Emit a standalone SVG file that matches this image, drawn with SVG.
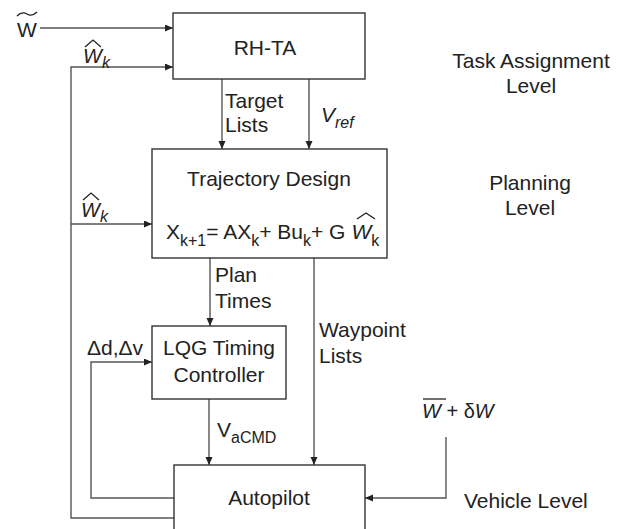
<svg xmlns="http://www.w3.org/2000/svg" width="633" height="529" viewBox="0 0 633 529">
<style>
text{font-family:"Liberation Sans",Arial,sans-serif;font-size:21px;fill:#222}
.it{font-style:italic}
.sub{font-size:16px}
.box{fill:#fff;stroke:#333;stroke-width:1.4}
.ln{fill:none;stroke:#555;stroke-width:1.4}
.acc{fill:none;stroke:#222;stroke-width:1.3}
.mid{text-anchor:middle}
</style>
<defs>
<marker id="ah" markerWidth="9" markerHeight="8" refX="8" refY="3.5" orient="auto" markerUnits="userSpaceOnUse">
<path d="M0,0 L8,3.5 L0,7 z" fill="#222"/>
</marker>
</defs>
<rect width="633" height="529" fill="#fff"/>
<g id="connectors">
<path class="ln" d="M40,28 H173" marker-end="url(#ah)"/>
<path class="ln" d="M174,518 H71 V67 H173" marker-end="url(#ah)"/>
<path class="ln" d="M71,224 H152" marker-end="url(#ah)"/>
<path class="ln" d="M222,79 V149" marker-end="url(#ah)"/>
<path class="ln" d="M309,79 V149" marker-end="url(#ah)"/>
<path class="ln" d="M210,258 V326" marker-end="url(#ah)"/>
<path class="ln" d="M314,258 V465" marker-end="url(#ah)"/>
<path class="ln" d="M209,399 V465" marker-end="url(#ah)"/>
<path class="ln" d="M174,498 H91 V362 H152" marker-end="url(#ah)"/>
<path class="ln" d="M446,437 V498 H365" marker-end="url(#ah)"/>
</g>
<g id="rhta">
<rect class="box" x="173" y="13" width="192" height="66"/>
<text class="mid" x="265" y="55">RH-TA</text>
</g>
<g id="trajectory">
<rect class="box" x="152" y="149" width="235" height="109"/>
<text class="mid" x="269" y="186">Trajectory Design</text>
<text x="166" y="239">X<tspan class="sub" dy="7">k+1</tspan><tspan dy="-7">= AX</tspan><tspan class="sub" dy="7">k</tspan><tspan dy="-7">+ Bu</tspan><tspan class="sub" dy="7">k</tspan><tspan dy="-7">+ G</tspan><tspan class="it" dx="6">W</tspan><tspan class="sub" dy="7">k</tspan></text>
<path class="acc" d="M357,219 L366,213 L375,219"/>
</g>
<g id="lqg">
<rect class="box" x="152" y="326" width="134" height="73"/>
<text class="mid" x="219" y="355">LQG Timing</text>
<text class="mid" x="219" y="382">Controller</text>
</g>
<g id="autopilot">
<rect class="box" x="174" y="465" width="191" height="80"/>
<text class="mid" x="269" y="505">Autopilot</text>
</g>
<g id="labels">
<text x="17" y="37">W</text>
<path class="acc" d="M17,16 Q22,11 27,14 T37,12"/>
<text class="it" x="83" y="63" style="font-size:20px">W<tspan class="sub" dy="5">k</tspan></text>
<path class="acc" d="M85,47 L93,40 L101,47"/>
<text class="it" x="81" y="217" style="font-size:20px">W<tspan class="sub" dy="5">k</tspan></text>
<path class="acc" d="M83,200 L91,193 L99,200"/>
<text x="225" y="108">Target</text>
<text x="225" y="132">Lists</text>
<text class="it" x="321" y="122">V<tspan class="sub" dy="6">ref</tspan></text>
<text x="215" y="282">Plan</text>
<text x="215" y="308">Times</text>
<text x="319" y="337">Waypoint</text>
<text x="319" y="363">Lists</text>
<text x="87" y="355">Δd,Δv</text>
<text x="217" y="437">V<tspan class="sub" dy="6">aCMD</tspan></text>
<text x="422" y="418" style="font-size:20px"><tspan class="it">W</tspan> + δ<tspan class="it">W</tspan></text>
<path class="acc" d="M423,399 H446"/>
<text class="mid" x="531" y="68">Task Assignment</text>
<text class="mid" x="531" y="93">Level</text>
<text class="mid" x="530" y="190">Planning</text>
<text class="mid" x="530" y="215">Level</text>
<text x="464" y="508">Vehicle Level</text>
</g>
</svg>
